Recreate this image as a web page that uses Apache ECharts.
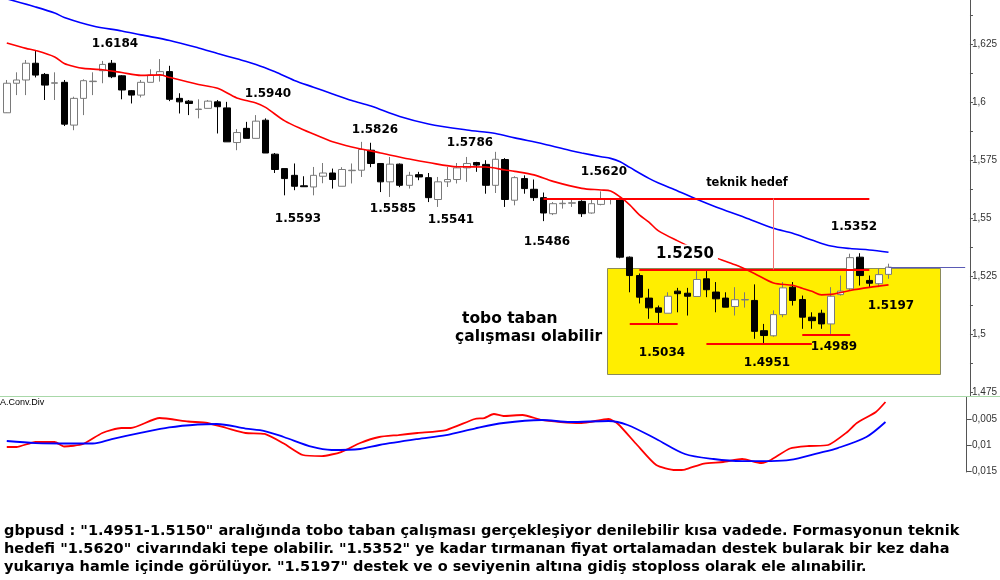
<!DOCTYPE html>
<html>
<head>
<meta charset="utf-8">
<script src="https://cdn.jsdelivr.net/npm/echarts@6/dist/echarts.min.js"></script>
<style>
  html, body { margin: 0; padding: 0; background: #fff; }
  #chart { width: 1000px; height: 580px; }
</style>
</head>
<body>
<div id="chart"></div>
<script>
// gbpusd daily candles (open, close, low, high)
const opens = [1.5954,1.6081,1.6095,1.6167,1.6119,1.6081,1.6085,1.5901,1.6016,1.6088,
  1.6135,1.6167,1.6113,1.6049,1.6030,1.6085,1.6116,1.6131,1.6016,1.6004,
  1.5968,1.5973,1.6001,1.5975,1.5826,1.5887,1.5844,1.5922,1.5776,1.5714,
  1.5685,1.5640,1.5635,1.5681,1.5695,1.5638,1.5705,1.5707,1.5793,1.5736,
  1.5657,1.5733,1.5642,1.5688,1.5675,1.5581,1.5657,1.5667,1.5717,1.5740,
  1.5732,1.5642,1.5753,1.5578,1.5671,1.5625,1.5589,1.5520,1.5563,1.5565,
  1.5573,1.5523,1.5560,1.5582,1.5582,1.5333,1.5254,1.5157,1.5115,1.5092,
  1.5187,1.5178,1.5164,1.5240,1.5183,1.5157,1.5121,1.5149,1.5147,1.5017,
  1.4995,1.5086,1.5204,1.5151,1.5075,1.5092,1.5046,1.5172,1.5197,1.5333,
  1.5233,1.5219,1.5259]
const closes = [1.6081,1.6095,1.6167,1.6116,1.6073,1.6083,1.5905,1.6016,1.6092,1.6090,
  1.6162,1.6109,1.6052,1.6030,1.6085,1.6116,1.6131,1.6012,1.6001,1.5994,
  1.5970,1.6004,1.5980,1.5829,1.5869,1.5844,1.5918,1.5781,1.5710,1.5671,
  1.5638,1.5636,1.5685,1.5695,1.5667,1.5710,1.5707,1.5796,1.5736,1.5657,
  1.5733,1.5642,1.5685,1.5678,1.5589,1.5657,1.5667,1.5717,1.5736,1.5729,
  1.5642,1.5754,1.5581,1.5675,1.5628,1.5589,1.5523,1.5563,1.5565,1.5567,
  1.5520,1.5563,1.5582,1.5584,1.5333,1.5254,1.5161,1.5115,1.5096,1.5165,
  1.5176,1.5165,1.5237,1.5193,1.5154,1.5118,1.5150,1.5151,1.5014,1.4996,
  1.5086,1.5201,1.5147,1.5075,1.5060,1.5046,1.5165,1.5187,1.5331,1.5254,
  1.5221,1.5258,1.5290]
const lows = [1.5953,1.6030,1.6030,1.6106,1.6009,1.6009,1.5897,1.5879,1.5944,1.6030,
  1.6081,1.6103,1.6012,1.5994,1.6020,1.6085,1.6088,1.6004,1.5951,1.5944,
  1.5930,1.5973,1.5865,1.5829,1.5793,1.5844,1.5844,1.5781,1.5695,1.5599,
  1.5621,1.5635,1.5599,1.5651,1.5628,1.5638,1.5650,1.5678,1.5720,1.5613,
  1.5592,1.5634,1.5628,1.5664,1.5570,1.5549,1.5635,1.5650,1.5657,1.5700,
  1.5606,1.5609,1.5549,1.5556,1.5606,1.5575,1.5488,1.5514,1.5542,1.5549,
  1.5506,1.5520,1.5556,1.5560,1.5328,1.5182,1.5134,1.5068,1.5043,1.5092,
  1.5096,1.5082,1.5164,1.5161,1.5096,1.5118,1.5082,1.5116,1.4982,1.4960,
  1.4991,1.5075,1.5125,1.5025,1.5025,1.5025,1.5003,1.5168,1.5190,1.5211,
  1.5204,1.5204,1.5240]
const highs = [1.6095,1.6128,1.6181,1.6224,1.6125,1.6128,1.6095,1.6023,1.6098,1.6128,
  1.6177,1.6181,1.6116,1.6052,1.6095,1.6141,1.6185,1.6156,1.6038,1.6009,
  1.6012,1.6009,1.6009,1.6001,1.5884,1.5915,1.5944,1.5930,1.5781,1.5714,
  1.5736,1.5681,1.5721,1.5738,1.5714,1.5720,1.5736,1.5829,1.5825,1.5736,
  1.5764,1.5736,1.5700,1.5700,1.5695,1.5678,1.5721,1.5738,1.5764,1.5743,
  1.5750,1.5786,1.5759,1.5681,1.5685,1.5667,1.5611,1.5570,1.5578,1.5581,
  1.5578,1.5586,1.5616,1.5585,1.5589,1.5336,1.5263,1.5197,1.5125,1.5182,
  1.5201,1.5201,1.5273,1.5273,1.5226,1.5182,1.5204,1.5182,1.5216,1.5046,
  1.5104,1.5226,1.5226,1.5168,1.5096,1.5107,1.5204,1.5254,1.5348,1.5350,
  1.5254,1.5283,1.5305]

// moving averages, [candle index, value] read at points along each curve
const maRed = [[0,1.6254],[2,1.6231],[3,1.6222],[5,1.6194],[6,1.6166],[7,1.6153],[8,1.6145],
  [10,1.6139],[12,1.6127],[14,1.6115],[16,1.6117],[17,1.6106],[20,1.6076],[22,1.6059],
  [24,1.6018],[26,1.5996],[27,1.5977],[29,1.5919],[31,1.5880],[32,1.5863],[34,1.5829],
  [36,1.5807],[39,1.5781],[42,1.5755],[44,1.5740],[47,1.5722],[50,1.5721],[52,1.5708],
  [53,1.5702],[55,1.5687],[57,1.5659],[60,1.5629],[62,1.5622],[63,1.5618],[64,1.5592],
  [65,1.5558],[66,1.5515],[67,1.5484],[68,1.5446],[70,1.5403],[72,1.5364],[74,1.5330],
  [76,1.5300],[78,1.5263],[80,1.5222],[82,1.5212],[83,1.5199],[84,1.5186],[85,1.5171],
  [86,1.5173],[87,1.5181],[88,1.5190],[90,1.5203],[92,1.5214]]
const maBlue = [[0,1.6444],[3,1.6409],[5,1.6383],[6,1.6364],[9,1.6327],[12,1.6306],[14,1.6289],
  [17,1.6265],[20,1.6233],[22,1.6209],[24,1.6186],[26,1.6162],[28,1.6130],[30,1.6093],
  [32,1.6064],[34,1.6035],[36,1.6007],[38,1.5983],[41,1.5938],[44,1.5906],[48,1.5880],
  [51,1.5865],[53,1.5846],[56,1.5820],[59,1.5790],[60,1.5781],[62,1.5765],[63,1.5758],
  [64,1.5743],[65,1.5719],[67,1.5672],[68,1.5652],[70,1.5618],[72,1.5582],[74,1.5549],
  [77,1.5504],[80,1.5457],[82,1.5436],[84,1.5407],[86,1.5381],[88,1.5370],[90,1.5364],
  [92,1.5354]]

// MACD panel
const macdMain = [[0,-0.01038],[1,-0.01038],[3,-0.00942],[5,-0.00942],[6,-0.01029],[8,-0.00981],
  [10,-0.00769],[12,-0.00673],[13,-0.00673],[16,-0.00481],[19,-0.00548],[21,-0.00577],
  [23,-0.00673],[25,-0.00769],[27,-0.00788],[29,-0.00971],[31,-0.01192],[33,-0.01212],
  [35,-0.01135],[37,-0.00962],[39,-0.00846],[41,-0.00808],[43,-0.00769],[46,-0.00712],
  [49,-0.00500],[50,-0.00481],[51,-0.00404],[52,-0.00442],[54,-0.00423],[56,-0.00519],
  [58,-0.00558],[60,-0.00577],[61,-0.00558],[63,-0.00500],[64,-0.00596],[66,-0.01000],
  [68,-0.01385],[70,-0.01481],[71,-0.01471],[73,-0.01356],[75,-0.01327],[77,-0.01269],
  [79,-0.01346],[80,-0.01288],[82,-0.01067],[84,-0.01019],[86,-0.01000],[88,-0.00750],
  [89,-0.00577],[91,-0.00365],[92,-0.00173]]
const macdSignal = [[0,-0.00923],[3,-0.00962],[7,-0.00971],[9,-0.00971],[11,-0.00885],
  [14,-0.00769],[17,-0.00663],[20,-0.00606],[22,-0.00596],[25,-0.00683],[27,-0.00731],
  [29,-0.00846],[32,-0.01038],[34,-0.01096],[37,-0.01077],[39,-0.01000],[43,-0.00885],
  [46,-0.00808],[49,-0.00683],[52,-0.00577],[56,-0.00519],[59,-0.00558],[63,-0.00538],
  [65,-0.00615],[68,-0.00885],[71,-0.01173],[74,-0.01269],[77,-0.01308],[80,-0.01308],
  [82,-0.01288],[85,-0.01154],[87,-0.01058],[90,-0.00846],[92,-0.00558]]

// drawn levels: [from candle, to candle, price]
const levels = [[56,90,1.5586],[66,90,1.5280],[65,70,1.5045],[73,84,1.4962],[83,88,1.5000]]
const lastPrice = 1.5290

const priceTicks = [1.475,1.4875,1.5,1.5125,1.525,1.5375,1.55,1.5625,1.575,1.5875,1.6,1.6125,1.625,1.6375]
const priceLabels = [1.475,1.5,1.525,1.55,1.575,1.6,1.625]
const macdLabels = [-0.005,-0.01,-0.015]

const text = [
  'gbpusd : "1.4951-1.5150" aralığında tobo taban çalışması gerçekleşiyor denilebilir kısa vadede. Formasyonun teknik',
  'hedefi "1.5620" civarındaki tepe olabilir. "1.5352" ye kadar tırmanan fiyat ortalamadan destek bularak bir kez daha',
  'yukarıya hamle içinde görülüyor. "1.5197" destek ve o seviyenin altına gidiş stoploss olarak ele alınabilir.'
]

const padRight = 8
const cats = []
for (let i = 0; i < opens.length + padRight; i++) cats.push(String(i + 1))
const candles = opens.map((o, i) => [o, closes[i], lows[i], highs[i]])

const comma = v => String(v).replace('.', ',')
const bold = 'DejaVu Sans'

function note(str, x, y, size, align) {
  return {
    type: 'text', z: 50,
    style: { text: str, x: x, y: y, fill: '#000', font: 'bold ' + (size || 12) + 'px ' + bold,
      textAlign: align || 'center', textVerticalAlign: 'middle' }
  }
}

const chart = echarts.init(document.getElementById('chart'))
const option = {
  animation: false,
  backgroundColor: '#fff',
  grid: [
    { left: 2, right: 30, top: 0, height: 396 },
    { left: 2, right: 30, top: 397, height: 75 }
  ],
  xAxis: [
    { type: 'category', data: cats, gridIndex: 0, show: false, boundaryGap: true },
    { type: 'category', data: cats, gridIndex: 1, show: false, boundaryGap: true }
  ],
  yAxis: [
    {
      gridIndex: 0, position: 'right', min: 1.4736, max: 1.6439,
      splitLine: { show: false },
      axisLine: { show: true, lineStyle: { color: '#555' } },
      axisTick: { show: true, inside: false, length: 3, customValues: priceTicks, lineStyle: { color: '#555' } },
      axisLabel: { customValues: priceLabels, formatter: comma, margin: 2, color: '#333',
        fontFamily: 'Liberation Sans', fontSize: 10 }
    },
    {
      gridIndex: 1, position: 'right', min: -0.01519, max: -0.00077,
      splitLine: { show: false },
      axisLine: { show: true, lineStyle: { color: '#555' } },
      axisTick: { show: true, length: 3, customValues: macdLabels, lineStyle: { color: '#555' } },
      axisLabel: { customValues: macdLabels, formatter: comma, margin: 2, color: '#333',
        fontFamily: 'Liberation Sans', fontSize: 10 }
    }
  ],
  series: [
    {
      type: 'candlestick', xAxisIndex: 0, yAxisIndex: 0, data: candles, barWidth: 7,
      itemStyle: { color: '#ffffff', color0: '#000000', borderColor: '#7a7a7a', borderColor0: '#000000', borderWidth: 1 },
      markLine: {
        silent: true, symbol: 'none', label: { show: false },
        data: levels.map(l => [
          { coord: [l[0], l[2]], lineStyle: { color: '#ff0000', width: 2, type: 'solid' } },
          { coord: [l[1], l[2]] }
        ]).concat([
          [{ coord: [80, levels[0][2]], lineStyle: { color: '#f07070', width: 1, type: 'solid' } },
           { coord: [80, levels[1][2]] }],
          [{ coord: [opens.length - 1, lastPrice], lineStyle: { color: '#5a5ab4', width: 1, type: 'solid' } },
           { coord: [cats.length - 1, lastPrice] }]
        ])
      }
    },
    {
      type: 'line', xAxisIndex: 0, yAxisIndex: 0, data: maRed, smooth: 0.3, showSymbol: false,
      lineStyle: { color: '#ff0000', width: 1.6 }, z: 3
    },
    {
      type: 'line', xAxisIndex: 0, yAxisIndex: 0, data: maBlue, smooth: 0.3, showSymbol: false,
      lineStyle: { color: '#0000ff', width: 1.6 }, z: 3
    },
    {
      type: 'line', xAxisIndex: 1, yAxisIndex: 1, data: macdMain, smooth: 0.2, showSymbol: false,
      lineStyle: { color: '#ff0000', width: 1.8 }
    },
    {
      type: 'line', xAxisIndex: 1, yAxisIndex: 1, data: macdSignal, smooth: 0.3, showSymbol: false,
      lineStyle: { color: '#0000ff', width: 1.8 }
    }
  ],
  graphic: [
    { type: 'rect', z: 1, shape: { x: 607.5, y: 268.5, width: 333, height: 106 },
      style: { fill: '#ffee00', stroke: '#8a8a5a', lineWidth: 1 } },
    { type: 'line', z: 1, shape: { x1: 0, y1: 396.5, x2: 1000, y2: 396.5 },
      style: { stroke: '#a8d8a8', lineWidth: 1 } },
    { type: 'text', z: 50, style: { text: 'A.Conv.Div', x: 0, y: 398, fill: '#000',
      font: '9px Liberation Sans' } },
    note('1.6184', 115, 44),
    note('1.5940', 268, 94),
    note('1.5826', 375, 130),
    note('1.5786', 470, 143),
    note('1.5620', 604, 172),
    note('1.5593', 298, 219),
    note('1.5585', 393, 209),
    note('1.5541', 451, 220),
    note('1.5486', 547, 242),
    note('teknik hedef', 747, 183, 11.5),
    note('1.5352', 854, 227),
    note('1.5250', 685, 254, 15),
    note('1.5197', 891, 306),
    note('1.5034', 662, 353),
    note('1.4951', 767, 363),
    note('1.4989', 834, 347),
    note('tobo taban', 462, 319, 15.5, 'left'),
    note('çalışması olabilir', 455, 337, 15.5, 'left')
  ].concat(text.map((t, i) => ({
    type: 'text', z: 50,
    style: { text: t, x: 4, y: 531 + i * 18, fill: '#000', font: 'bold 14.5px ' + bold,
      textAlign: 'left', textVerticalAlign: 'middle' }
  })))
}

// white backing behind 1.5250 so the red average breaks there
option.graphic.forEach(g => {
  if (g.style && g.style.text === '1.5250') { g.style.backgroundColor = '#fff'; g.style.padding = [2, 4] }
})

chart.setOption(option)
</script>
</body>
</html>
